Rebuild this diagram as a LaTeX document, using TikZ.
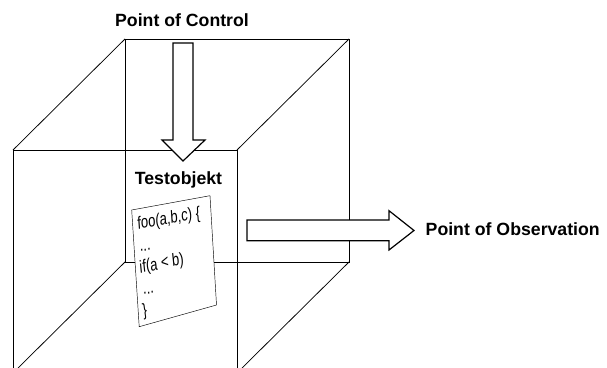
\documentclass[tikz,border=0pt]{standalone}
\usepackage{fontspec}
\setmainfont{Liberation Sans}
\begin{document}
\begin{tikzpicture}[x=1pt,y=1pt,
  cubeedge/.style={draw=black,line width=0.75pt},
  blockarrow/.style={draw=black,fill=white,line width=1.2pt,line join=miter},
  paper/.style={draw=black,fill=white,line width=0.45pt},
  title/.style={font=\fontsize{17.7}{20}\selectfont\bfseries,inner sep=0pt},
  codeline/.style={font=\fontsize{17.5}{20}\selectfont,inner sep=0pt,anchor=base west}]
\useasboundingbox (0,0) rectangle (607,367);
\clip (0,0) rectangle (607,367);

% corners of the box
\coordinate (btl) at (125,328);
\coordinate (btr) at (349,328);
\coordinate (bbr) at (349,105);
\coordinate (bbl) at (125,105);
\coordinate (ftl) at (13,217);
\coordinate (ftr) at (237,217);
\coordinate (fbl) at (13,-6);
\coordinate (fbr) at (237,-6);
\coordinate (fbl2) at (13,-6);

% back face
\draw[cubeedge] (bbl) -- (btl) -- (btr) -- (bbr) -- cycle;
% front face (open at the bottom)
\draw[cubeedge] (fbl) -- (ftl) -- (ftr) -- (fbr);
% depth edges
\draw[cubeedge] (ftl) -- (btl);
\draw[cubeedge] (ftr) -- (btr);
\draw[cubeedge] (bbl) -- (fbl2);
\draw[cubeedge] (bbr) -- (fbr);

% sheet of code
\coordinate (pa) at (131.7,157);
\coordinate (pb) at (210,171.3);
\coordinate (pc) at (216.5,62);
\coordinate (pd) at (139.2,40.3);
\draw[paper] (pa) -- (pb) -- (pc) -- (pd) -- cycle;
\node[codeline,rotate=9.5,xslant=0.1,xscale=0.75] (l1) at (137.7,137.7) {foo(a,b,c) \{};
\node[codeline,rotate=10.5,xslant=0.1,xscale=0.75] (l2) at (140,115.3) {...};
\node[codeline,rotate=11.5,xslant=0.1,xscale=0.75] (l3) at (140,93.7) {if(a < b)};
\node[codeline,rotate=12.5,xslant=0.1,xscale=0.75] (l4) at (143.3,72) {...};
\node[codeline,rotate=13.5,xslant=0.1,xscale=0.75] (l5) at (143.3,50.3) {\}};

% block arrows
\draw[blockarrow] (173,324) -- (193,324) -- (193,227) -- (205,227) -- (183,206)
  -- (162,227) -- (173,227) -- cycle;
\draw[blockarrow] (247,147) -- (389,147) -- (389,156.3) -- (414,136.5)
  -- (389,117) -- (389,126.3) -- (247,126.3) -- cycle;

% labels
\node[title,anchor=base] (control) at (182,340.3) {Point of Control};
\node[title,anchor=base] (object) at (178.5,182) {Testobjekt};
\node[title,anchor=base west] (observation) at (425.5,131.3) {Point of Observation};
\end{tikzpicture}
\end{document}
